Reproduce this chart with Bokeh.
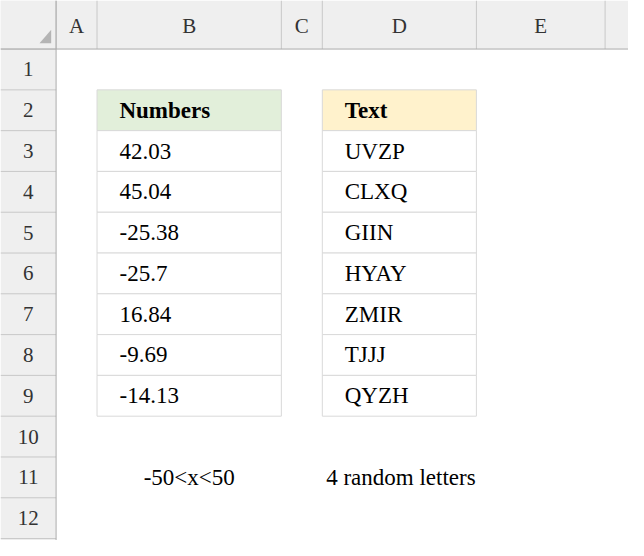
from bokeh.plotting import figure
from bokeh.models import Range1d
from bokeh.embed import file_html
from bokeh.resources import INLINE

col_names = ["A", "B", "C", "D", "E"]
row_names = [str(i) for i in range(1, 13)]
numbers = ["42.03", "45.04", "-25.38", "-25.7", "16.84", "-9.69", "-14.13"]
texts = ["UVZP", "CLXQ", "GIIN", "HYAY", "ZMIR", "TJJJ", "QYZH"]
note_b = "-50<x<50"
note_d = "4 random letters"

# layout in screen pixels
col_edges = [57, 99, 288, 330, 488, 620, 660]
head_h = 50
row_h = 42
W, H = 644, 556
font = "Noto Sans"

p = figure(width=628, height=540, output_backend="svg", toolbar_location=None,
           x_range=Range1d(0, W), y_range=Range1d(H, 0), min_border=0)
p.axis.visible = False
p.grid.visible = False
p.outline_line_color = None

def rtop(i):
    return head_h + row_h * i

# headers background
p.quad(left=0, right=W, top=0, bottom=head_h, fill_color="#efefef", line_color=None)
p.quad(left=0, right=col_edges[0], top=0, bottom=H, fill_color="#efefef", line_color=None)
p.patch([40, 52, 52], [44, 44, 30], fill_color="#b4b4b4", line_color=None)
# header separators
xs = col_edges[:-1]
p.segment(x0=xs, y0=[0] * len(xs), x1=xs, y1=[head_h] * len(xs), line_color="#c8c8c8")
ys = [rtop(i) for i in range(len(row_names) + 1)]
p.segment(x0=[0] * len(ys), y0=ys, x1=[col_edges[0]] * len(ys), y1=ys, line_color="#c8c8c8")
p.segment(x0=[0], y0=[head_h], x1=[W], y1=[head_h], line_color="#ababab")
p.segment(x0=[col_edges[0]], y0=[0], x1=[col_edges[0]], y1=[H], line_color="#ababab")

cx = [(col_edges[i] + col_edges[i + 1]) / 2 for i in range(len(col_names))]
p.text(x=cx, y=[head_h / 2 + 1] * len(cx), text=col_names, text_align="center",
       text_baseline="middle", text_font_size="21px", text_font=font, text_color="#333333")
p.text(x=[col_edges[0] / 2] * len(row_names), y=[rtop(i) + row_h / 2 for i in range(len(row_names))],
       text=row_names, text_align="center", text_baseline="middle",
       text_font_size="21px", text_font=font, text_color="#333333")

# tables
for ci, header, vals, fill in [(1, "Numbers", numbers, "#e2efda"), (3, "Text", texts, "#fff2cc")]:
    l, r = col_edges[ci], col_edges[ci + 1]
    p.quad(left=l, right=r, top=rtop(1), bottom=rtop(2), fill_color=fill, line_color="#d9d9d9")
    p.quad(left=[l] * len(vals), right=[r] * len(vals), top=[rtop(2 + i) for i in range(len(vals))],
           bottom=[rtop(3 + i) for i in range(len(vals))], fill_color="white", line_color="#d9d9d9")
    p.text(x=[l + 23], y=[rtop(1) + row_h / 2], text=[header], text_baseline="middle",
           text_font_size="23px", text_font=font, text_font_style="bold", text_color="black")
    p.text(x=[l + 23] * len(vals), y=[rtop(2 + i) + row_h / 2 for i in range(len(vals))],
           text=vals, text_baseline="middle", text_font_size="23px", text_font=font, text_color="black")

p.text(x=[cx[1]], y=[rtop(10) + row_h / 2], text=[note_b], text_align="center",
       text_baseline="middle", text_font_size="23px", text_font=font, text_color="black")
p.text(x=[col_edges[3] + 4], y=[rtop(10) + row_h / 2], text=[note_d],
       text_baseline="middle", text_font_size="23px", text_font=font, text_color="black")

open("out.html", "w").write(file_html(p, INLINE))
